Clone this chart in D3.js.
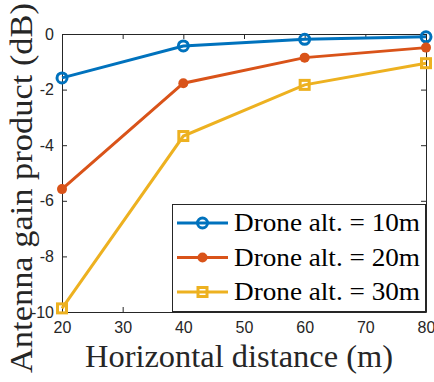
<!DOCTYPE html>
<html>
<head>
    <script src="https://d3js.org/d3.v7.min.js"></script>
    <style>
        body { margin: 0; background: white; }
        .tick text { font-family: "Liberation Sans", Arial, sans-serif; font-size: 16px; fill: #262626; }
    </style>
</head>
<body>
    <div id="chart"></div>
    <script>
        // Data
        const distances = [20, 40, 60, 80];
        const alt10 = [-1.58, -0.43, -0.19, -0.10];
        const alt20 = [-5.58, -1.77, -0.85, -0.49];
        const alt30 = [-9.87, -3.67, -1.83, -1.05];
        const seriesNames = ["Drone alt. = 10m", "Drone alt. = 20m", "Drone alt. = 30m"];
        const colors = ["#0072BD", "#D95319", "#EDB120"];
        const xTicks = [20, 30, 40, 50, 60, 70, 80];
        const yTicks = [0, -2, -4, -6, -8, -10];

        const width = 434, height = 382;
        const margin = { left: 62, right: 8, top: 34, bottom: 70 };
        const serif = "'Liberation Serif', 'Times New Roman', serif";

        const svg = d3.select("#chart").append("svg")
            .attr("width", width).attr("height", height);

        const x = d3.scaleLinear().domain([20, 80]).range([margin.left, width - margin.right]);
        const y = d3.scaleLinear().domain([-10, 0]).range([height - margin.bottom, margin.top]);

        // Axes (box on, ticks inward)
        const axisColor = "#262626";
        svg.append("g").attr("transform", `translate(0,${y(-10)})`)
            .call(d3.axisBottom(x).tickValues(xTicks).tickSizeInner(-5).tickSizeOuter(0).tickPadding(10))
            .call(g => g.selectAll("line,path").attr("stroke", axisColor));
        svg.append("g").attr("transform", `translate(0,${y(0)})`)
            .call(d3.axisTop(x).tickValues(xTicks).tickSizeInner(-5).tickSizeOuter(0).tickFormat(""))
            .call(g => g.selectAll("line,path").attr("stroke", axisColor));
        svg.append("g").attr("transform", `translate(${x(20)},0)`)
            .call(d3.axisLeft(y).tickValues(yTicks).tickSizeInner(-5).tickSizeOuter(0).tickPadding(8)
                .tickFormat(d => d === 0 ? "0" : "-" + Math.abs(d)))
            .call(g => g.selectAll("line,path").attr("stroke", axisColor));
        svg.append("g").attr("transform", `translate(${x(80)},0)`)
            .call(d3.axisRight(y).tickValues(yTicks).tickSizeInner(-5).tickSizeOuter(0).tickFormat(""))
            .call(g => g.selectAll("line,path").attr("stroke", axisColor));

        const all = [alt10, alt20, alt30];
        const line = d3.line().x((d, i) => x(distances[i])).y(d => y(d));

        function drawMarker(g, k, cx, cy) {
            if (k === 0) {
                g.append("circle").attr("cx", cx).attr("cy", cy).attr("r", 5)
                    .attr("fill", "none").attr("stroke", colors[0]).attr("stroke-width", 3);
            } else if (k === 1) {
                g.append("circle").attr("cx", cx).attr("cy", cy).attr("r", 5)
                    .attr("fill", colors[1]);
            } else {
                g.append("rect").attr("x", cx - 4.5).attr("y", cy - 4.5).attr("width", 9).attr("height", 9)
                    .attr("fill", "none").attr("stroke", colors[2]).attr("stroke-width", 3);
            }
        }

        all.forEach((vals, k) => {
            const g = svg.append("g");
            g.append("path").datum(vals).attr("d", line)
                .attr("fill", "none").attr("stroke", colors[k]).attr("stroke-width", 3);
            vals.forEach((v, i) => drawMarker(g, k, x(distances[i]), y(v)));
        });

        // Legend
        const lg = svg.append("g");
        lg.append("rect").attr("x", 172.5).attr("y", 204.5).attr("width", 253).attr("height", 107)
            .attr("fill", "white").attr("stroke", "#262626").attr("stroke-width", 1);
        seriesNames.forEach((name, k) => {
            const ry = 223 + k * 34.5;
            lg.append("line").attr("x1", 177).attr("x2", 228).attr("y1", ry).attr("y2", ry)
                .attr("stroke", colors[k]).attr("stroke-width", 3);
            drawMarker(lg, k, 202.5, ry);
            lg.append("text").attr("x", 234).attr("y", ry + 8)
                .attr("font-family", serif)
                .attr("font-size", 25).attr("fill", "#000")
                .attr("textLength", 186).attr("lengthAdjust", "spacingAndGlyphs")
                .text(name);
        });

        // Axis labels
        svg.append("text").attr("x", 85).attr("y", 367)
            .attr("font-family", serif)
            .attr("font-size", 31).attr("fill", "#262626")
            .attr("textLength", 308).attr("lengthAdjust", "spacingAndGlyphs")
            .text("Horizontal distance (m)");
        svg.append("text").attr("transform", "translate(32,373) rotate(-90)")
            .attr("font-family", serif)
            .attr("font-size", 31).attr("fill", "#262626")
            .attr("textLength", 370).attr("lengthAdjust", "spacingAndGlyphs")
            .text("Antenna gain product (dB)");
    </script>
</body>
</html>
